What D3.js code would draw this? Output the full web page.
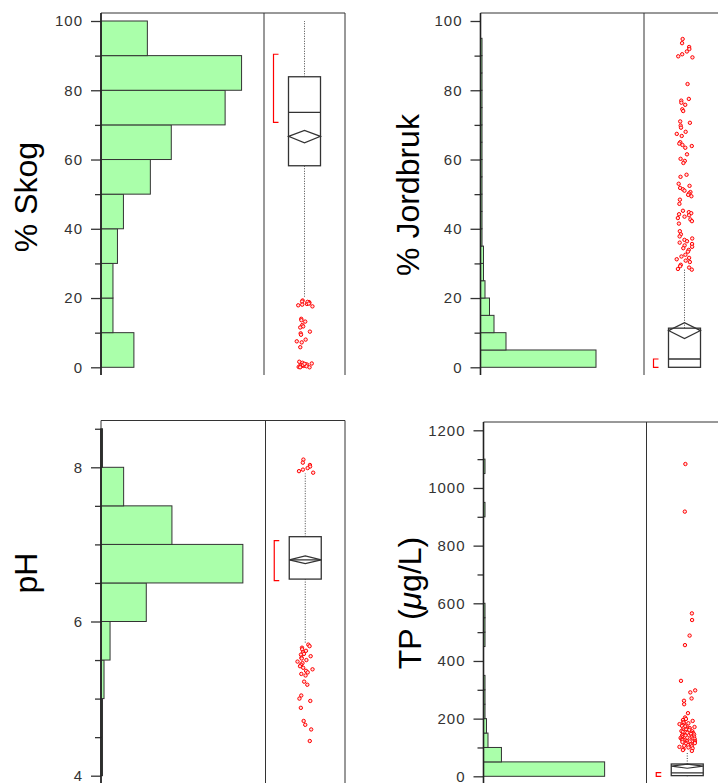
<!DOCTYPE html>
<html>
<head>
<meta charset="UTF-8">
<title>Skog, Jordbruk, pH, TP</title>
<style>
  body { margin: 0; background: #fff; }
  text { font-family: "Liberation Sans", Arial, sans-serif; }
  .tick text { font-size: 15px; fill: #333; letter-spacing: 1px; }
  .tick line { stroke: #333; }
</style>
</head>
<body>
<svg id="chart" width="718" height="783"></svg>
<script src="https://cdn.jsdelivr.net/npm/d3@7"></script>
<script>
  // % Skog
  var skogEdges    = [0, 10, 20, 30, 40, 50, 60, 70, 80, 90, 100];
  var skogCounts   = [22, 8, 8, 11, 15, 33, 47, 83, 94, 31];
  var skogBox      = [20.4, 58.2, 73.6, 83.9, 100];     // whisker lo, q1, median, q3, whisker hi
  var skogMean     = [66.7, 64.8, 68.4];                // mean, ci lo, ci hi
  var skogShortest = [70.7, 90.4];
  var skogOut      = [19.3, 19.0, 18.8, 18.6, 18.3, 18.1, 17.9, 17.6, 18.9, 18.4,
                      14.0, 13.6, 13.2, 12.2, 11.8, 11.5, 10.3, 9.8, 9.4, 8.0, 7.5, 7.2, 5.8,
                      1.6, 1.3, 1.1, 0.9, 0.8, 0.6, 0.5, 0.4, 0.3, 0.2, 0.1, 0.0, 0.0, 0.7, 1.0];
  var skogTicks    = [0, 20, 40, 60, 80, 100];
  var skogMinor    = [10, 30, 50, 70, 90];

  // % Jordbruk
  var jordEdges    = [0, 5, 10, 15, 20, 25, 30, 35, 40, 45, 50, 55, 60, 65, 70, 75, 80, 85, 90, 95];
  var jordCounts   = [77, 17, 9, 6, 3, 2, 2, 1, 1, 1, 1, 1, 1, 1, 1, 1, 1, 1, 1];
  var jordBox      = [0, 0, 2.4, 11.3, 28.3];
  var jordMean     = [10.6, 8.3, 12.9];
  var jordShortest = [0, 2.4];
  var jordOut      = [94.8, 93.6, 92.5, 91.9, 91.2, 90.4, 89.8, 89.5,
                      81.8, 77.5, 77.0, 76.4, 75.8, 74.5, 74.0, 71.0, 70.6, 69.8, 69.2, 68.0,
                      67.4, 66.8, 65.0, 64.6, 64.2, 63.9, 63.4, 61.5, 60.2, 59.6, 59.0,
                      55.6, 55.0, 53.0, 52.4, 51.8, 51.4, 51.0, 50.6, 50.2, 49.8, 49.4, 48.4, 47.2,
                      45.2, 44.8, 44.5, 44.2, 43.9, 43.5, 43.1, 42.7, 42.2, 41.5,
                      39.3, 38.4, 37.8, 37.2, 36.8, 36.4, 36.0, 35.6, 35.2, 34.8, 34.4, 33.9, 33.4,
                      32.5, 32.0, 31.6, 31.2, 30.8, 30.4, 29.6, 29.2, 28.8, 28.4, 28.2];
  var jordTicks    = [0, 20, 40, 60, 80, 100];
  var jordMinor    = [10, 30, 50, 70, 90];

  // pH
  var phEdges      = [4, 4.5, 5, 5.5, 6, 6.5, 7, 7.5, 8, 8.5];
  var phCounts     = [1, 1, 2, 6, 30, 94, 47, 15, 1];
  var phBox        = [5.72, 6.55, 6.80, 7.10, 7.92];
  var phMean       = [6.80, 6.75, 6.85];
  var phShortest   = [6.53, 7.05];
  var phOut        = [8.10, 8.06, 8.03, 8.01, 7.99, 7.97, 7.95, 7.93,
                      5.70, 5.68, 5.66, 5.64, 5.62, 5.60, 5.58, 5.57, 5.55, 5.53, 5.52, 5.50,
                      5.48, 5.46, 5.44, 5.42, 5.40, 5.38, 5.36, 5.34, 5.32, 5.30, 5.22, 5.18,
                      5.04, 5.00, 4.97, 4.88, 4.71, 4.66, 4.60, 4.45];
  var phTicks      = [4, 6, 8];
  var phMinor      = [4.5, 5, 5.5, 6.5, 7, 7.5, 8.5];

  // TP (µg/L)
  var tpEdges      = [0, 50, 100, 150, 200, 250, 300, 350, 400, 450, 500, 550, 600, 650, 700,
                      750, 800, 850, 900, 950, 1000, 1050, 1100];
  var tpCounts     = [81, 12, 3, 2, 1, 1, 1, 0, 0, 1, 1, 1, 0, 0, 0, 0, 0, 0, 1, 0, 0, 1];
  var tpBox        = [0, 2.3, 12, 42.7, 85];
  var tpMean       = [35, 28, 42];
  var tpShortest   = [0, 12.5];
  var tpOut        = [1083, 918, 565, 542, 488, 455, 331, 298, 291, 270, 262, 250, 219, 204,
                      199, 195, 192, 188, 186, 184, 181, 179, 177, 175, 173, 171, 169, 167, 166,
                      164, 162, 161, 159, 157, 156, 154, 153, 151, 150, 148, 147, 145, 144, 142,
                      141, 139, 138, 137, 135, 134, 133, 131, 130, 129, 127, 126, 125, 123, 122,
                      121, 119, 118, 116, 115, 113, 112, 110, 108, 106, 104, 102, 100, 97, 94, 91, 88];
  var tpTicks      = [0, 200, 400, 600, 800, 1000, 1200];
  var tpMinor      = [100, 300, 500, 700, 900, 1100];

  var countMax = 109;
  var svg = d3.select('#chart');

  drawPanel({ title: ['% Skog'], titleX: 37, titleY: 197,
    edges: skogEdges, counts: skogCounts, box: skogBox, mean: skogMean, shortest: skogShortest,
    out: skogOut, ticks: skogTicks, minor: skogMinor,
    yDomain: [0, 100], yRange: [367.3, 21], axisX: 101, histRight: 264, boxRight: 345,
    top: 13, axisTop: 13, bottom: 375 });

  drawPanel({ title: ['% Jordbruk'], titleX: 419, titleY: 195,
    edges: jordEdges, counts: jordCounts, box: jordBox, mean: jordMean, shortest: jordShortest,
    out: jordOut, ticks: jordTicks, minor: jordMinor,
    yDomain: [0, 100], yRange: [367.3, 21], axisX: 480.5, histRight: 644, boxRight: 725,
    top: 13, axisTop: 13, bottom: 375 });

  drawPanel({ title: ['pH'], titleX: 37, titleY: 573,
    edges: phEdges, counts: phCounts, box: phBox, mean: phMean, shortest: phShortest,
    out: phOut, ticks: phTicks, minor: phMinor,
    yDomain: [4, 8], yRange: [775.7, 467.3], axisX: 101, histRight: 265.5, boxRight: 345,
    top: 420.5, axisTop: 428.7, bottom: 790 });

  drawPanel({ title: ['TP (', 'μ', 'g/L)'], titleX: 421, titleY: 603,
    edges: tpEdges, counts: tpCounts, box: tpBox, mean: tpMean, shortest: tpShortest,
    out: tpOut, ticks: tpTicks, minor: tpMinor,
    yDomain: [0, 1200], yRange: [776.3, 430.3], axisX: 483.5, histRight: 646.5, boxRight: 728,
    top: 422, axisTop: 422, bottom: 790 });

  // fixed, repeatable sideways spread for the outlier dots
  function jitter(i) {
    var s = Math.sin(i * 12.9898 + 4.1) * 43758.5453;
    return (s - Math.floor(s)) * 16 - 8;
  }

  function drawPanel(p) {
    var g = svg.append('g');
    var y = d3.scaleLinear().domain(p.yDomain).range(p.yRange);
    var x = d3.scaleLinear().domain([0, countMax]).range([p.axisX, p.histRight]);

    // histogram bars
    var bins = p.counts.map(function (c, i) {
      return { lo: p.edges[i], hi: p.edges[i + 1], n: c };
    }).filter(function (d) { return d.n > 0; });

    g.selectAll('rect.bar').data(bins).enter()
      .append('rect')
      .attr('class', 'bar')
      .attr('x', x(0))
      .attr('y', function (d) { return y(d.hi); })
      .attr('width', function (d) { return x(d.n) - x(0); })
      .attr('height', function (d) { return y(d.lo) - y(d.hi); })
      .attr('fill', '#aaffaa')
      .attr('stroke', '#333')
      .attr('stroke-width', 1);

    // frame
    g.append('path')
      .attr('d', 'M' + p.axisX + ',' + p.bottom + 'V' + p.top + 'H' + p.boxRight + 'V' + p.bottom +
                 'M' + p.histRight + ',' + p.top + 'V' + p.bottom)
      .attr('fill', 'none').attr('stroke', '#333').attr('stroke-width', 1);

    // axis
    var axis = d3.axisLeft(y).tickValues(p.ticks).tickSize(10).tickPadding(8)
      .tickFormat(d3.format('d'));
    var ga = g.append('g').attr('transform', 'translate(' + p.axisX + ',0)').call(axis);
    ga.select('.domain').remove();
    ga.selectAll('.tick line').attr('stroke-width', 1.3);

    var minorAxis = d3.axisLeft(y).tickValues(p.minor).tickSize(6).tickFormat('');
    var gm = g.append('g').attr('transform', 'translate(' + p.axisX + ',0)').call(minorAxis);
    gm.select('.domain').remove();
    gm.selectAll('.tick line').attr('stroke-width', 1.3);

    g.append('line')
      .attr('x1', p.axisX).attr('x2', p.axisX)
      .attr('y1', p.axisTop).attr('y2', p.bottom)
      .attr('stroke', '#222').attr('stroke-width', 1.6);

    // title
    var t = g.append('text')
      .attr('transform', 'translate(' + p.titleX + ',' + p.titleY + ') rotate(-90)')
      .attr('text-anchor', 'middle')
      .attr('font-size', 32)
      .attr('fill', '#000');
    p.title.forEach(function (s) {
      var ts = t.append('tspan').text(s);
      if (s === 'μ') ts.attr('font-style', 'italic');
    });

    // box plot
    var cx = (p.histRight + p.boxRight) / 2;
    var bw = 16;

    // whiskers
    g.append('line')
      .attr('x1', cx).attr('x2', cx)
      .attr('y1', y(p.box[3])).attr('y2', y(p.box[4]))
      .attr('stroke', '#444').attr('stroke-width', 1).attr('stroke-dasharray', '1 1.5');
    g.append('line')
      .attr('x1', cx).attr('x2', cx)
      .attr('y1', y(p.box[1])).attr('y2', y(p.box[0]))
      .attr('stroke', '#444').attr('stroke-width', 1).attr('stroke-dasharray', '1 1.5');

    // box
    g.append('rect')
      .attr('x', cx - bw).attr('width', bw * 2)
      .attr('y', y(p.box[3])).attr('height', y(p.box[1]) - y(p.box[3]))
      .attr('fill', '#fff').attr('stroke', '#333').attr('stroke-width', 1.3);
    g.append('line')
      .attr('x1', cx - bw).attr('x2', cx + bw)
      .attr('y1', y(p.box[2])).attr('y2', y(p.box[2]))
      .attr('stroke', '#333').attr('stroke-width', 1.3);

    // mean diamond
    g.append('path')
      .attr('d', 'M' + (cx - bw) + ',' + y(p.mean[0]) +
                 'L' + cx + ',' + y(p.mean[2]) +
                 'L' + (cx + bw) + ',' + y(p.mean[0]) +
                 'L' + cx + ',' + y(p.mean[1]) + 'Z')
      .attr('fill', 'none').attr('stroke', '#333').attr('stroke-width', 1.2);

    // shortest half bracket
    var bx = cx - 31;
    g.append('path')
      .attr('d', 'M' + (bx + 5) + ',' + y(p.shortest[1]) + 'H' + bx +
                 'V' + y(p.shortest[0]) + 'H' + (bx + 5))
      .attr('fill', 'none').attr('stroke', 'red').attr('stroke-width', 1.2);

    // outliers
    g.selectAll('circle.out').data(p.out).enter()
      .append('circle')
      .attr('class', 'out')
      .attr('cx', function (d, i) { return cx + jitter(i); })
      .attr('cy', function (d) { return y(d); })
      .attr('r', 1.7)
      .attr('fill', '#fdd')
      .attr('stroke', 'red')
      .attr('stroke-width', 1);
  }
</script>
</body>
</html>
